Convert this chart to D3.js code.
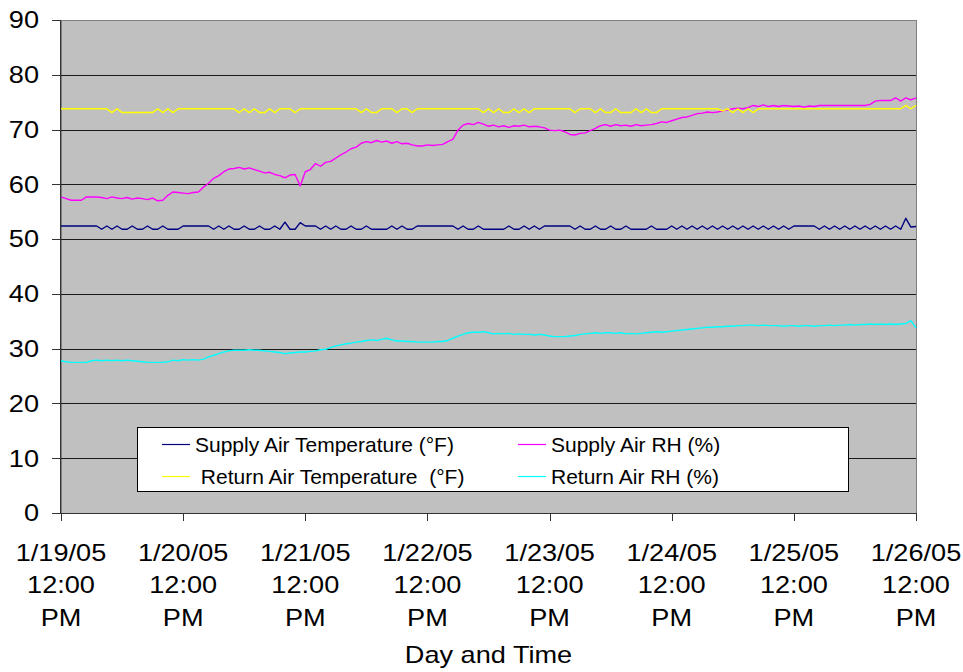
<!DOCTYPE html>
<html>
<head>
<meta charset="utf-8">
<script src="https://cdn.jsdelivr.net/npm/d3@7"></script>
<style>
  body { margin: 0; background: #fff; }
  svg { display: block; font-family: "Liberation Sans", Arial, sans-serif; }
  .grid line { stroke: #1a1a1a; stroke-width: 1; shape-rendering: crispEdges; }
  .axis path, .axis line { stroke: #333; shape-rendering: crispEdges; }
  .series { fill: none; stroke-width: 1.4; stroke-linejoin: round; }
</style>
</head>
<body>
<div id="chart"></div>
<script>
// hourly readings, 1/19/05 12:00 PM -> 1/26/05 12:00 PM (169 values each)
const supplyTemp = [
  52.4,52.4,52.4,52.4,52.4,52.4,52.4,52.4,51.8,52.4,51.8,52.4,
  51.8,51.8,52.4,51.8,51.8,52.4,51.8,51.8,52.4,51.8,51.8,51.8,
  52.4,52.4,52.4,52.4,52.4,52.4,51.8,52.4,51.8,52.4,51.8,51.8,
  52.4,51.8,51.8,52.4,51.8,51.8,52.4,51.8,53.1,51.8,51.8,53.0,
  52.4,52.4,52.4,51.8,52.4,51.8,52.4,51.8,51.8,52.4,51.8,51.8,
  52.4,51.8,51.8,51.8,51.8,52.4,51.8,52.4,51.8,51.8,52.4,52.4,
  52.4,52.4,52.4,52.4,52.4,52.4,51.8,52.4,51.8,51.8,52.4,51.8,
  51.8,51.8,51.8,51.8,52.4,51.8,51.8,52.4,51.8,52.4,51.8,52.4,
  52.4,52.4,52.4,52.4,52.4,51.8,52.4,51.8,51.8,52.4,51.8,51.8,
  52.4,51.8,51.8,52.4,51.8,51.8,51.8,51.8,52.4,51.8,51.8,51.8,
  52.4,51.8,52.4,51.8,52.4,51.8,52.4,51.8,52.4,51.8,52.4,51.8,
  52.4,51.8,52.4,51.8,52.4,51.8,52.4,51.8,52.4,51.8,52.4,51.8,
  52.4,52.4,52.4,52.4,52.4,51.8,52.4,51.8,52.4,51.8,52.4,51.8,
  52.4,51.8,52.4,51.8,52.4,51.8,52.4,51.8,52.4,51.8,53.8,52.2,
  52.3
];
const returnTemp = [
  73.8,73.8,73.8,73.8,73.8,73.8,73.8,73.8,73.8,73.8,73.1,73.8,
  73.1,73.1,73.1,73.1,73.1,73.1,73.1,73.8,73.1,73.8,73.1,73.8,
  73.8,73.8,73.8,73.8,73.8,73.8,73.8,73.8,73.8,73.8,73.8,73.1,
  73.8,73.1,73.8,73.1,73.1,73.8,73.1,73.8,73.8,73.8,73.1,73.8,
  73.8,73.8,73.8,73.8,73.8,73.8,73.8,73.8,73.8,73.8,73.8,73.1,
  73.8,73.1,73.1,73.8,73.8,73.8,73.1,73.8,73.8,73.1,73.8,73.8,
  73.8,73.8,73.8,73.8,73.8,73.8,73.8,73.8,73.8,73.8,73.8,73.1,
  73.8,73.1,73.8,73.1,73.1,73.8,73.1,73.8,73.1,73.8,73.8,73.8,
  73.8,73.8,73.8,73.8,73.8,73.1,73.8,73.8,73.8,73.1,73.8,73.1,
  73.1,73.8,73.1,73.1,73.1,73.8,73.1,73.8,73.1,73.1,73.8,73.8,
  73.8,73.8,73.8,73.8,73.8,73.8,73.8,73.8,73.8,73.8,73.4,73.8,
  73.1,73.8,73.1,73.8,73.1,73.8,73.8,73.8,73.8,73.8,73.8,73.8,
  73.8,73.8,73.8,73.8,73.8,73.8,73.8,73.8,73.8,73.8,73.8,73.8,
  73.8,73.8,73.8,73.8,73.8,73.8,73.8,73.8,73.8,73.8,74.4,73.8,
  74.4
];
const supplyRH = [
  57.7,57.4,57.1,57.1,57.1,57.7,57.7,57.7,57.6,57.4,57.7,57.5,
  57.4,57.6,57.3,57.5,57.4,57.2,57.5,57.0,57.1,58.0,58.6,58.5,
  58.4,58.3,58.5,58.6,59.5,60.2,61.1,61.6,62.3,62.8,62.9,63.1,
  62.8,63.0,62.7,62.4,62.1,62.2,61.8,61.6,61.2,61.7,61.8,59.7,
  62.3,62.7,63.8,63.3,64.0,64.2,64.8,65.4,65.9,66.5,66.8,67.5,
  67.8,67.6,68.0,67.7,67.9,67.5,67.8,67.4,67.5,67.2,67.0,67.0,
  67.2,67.1,67.2,67.3,67.8,68.2,69.9,70.8,71.1,70.9,71.3,71.0,
  70.6,70.8,70.5,70.7,70.4,70.7,70.6,70.8,70.5,70.6,70.5,70.3,
  69.9,69.8,69.9,69.6,69.1,69.0,69.3,69.4,69.8,70.2,70.7,70.9,
  70.6,70.9,70.7,70.8,70.6,70.9,70.7,70.8,70.9,71.1,71.4,71.3,
  71.6,71.9,72.2,72.3,72.6,72.9,73.0,73.2,73.1,73.2,73.4,73.6,
  73.8,73.9,73.8,74.0,74.4,74.2,74.5,74.2,74.4,74.2,74.4,74.3,
  74.2,74.3,74.1,74.3,74.2,74.4,74.4,74.4,74.4,74.4,74.4,74.4,
  74.4,74.4,74.4,74.6,75.2,75.3,75.3,75.3,75.8,75.2,75.8,75.4,
  75.8
];
const returnRH = [
  27.8,27.6,27.5,27.5,27.5,27.5,27.8,27.9,27.8,27.9,27.8,27.9,
  27.8,27.9,27.8,27.7,27.6,27.5,27.5,27.5,27.5,27.6,27.9,27.8,
  28.0,27.9,28.0,27.9,28.1,28.5,28.8,29.1,29.4,29.6,29.7,29.7,
  29.7,29.8,29.7,29.7,29.6,29.5,29.4,29.3,29.1,29.2,29.3,29.4,
  29.4,29.5,29.6,29.8,29.9,30.2,30.5,30.7,30.9,31.0,31.2,31.3,
  31.5,31.6,31.5,31.7,31.9,31.6,31.4,31.4,31.3,31.3,31.2,31.2,
  31.2,31.2,31.3,31.3,31.5,31.9,32.3,32.6,32.9,33.0,33.0,33.1,
  32.9,32.7,32.8,32.7,32.8,32.6,32.7,32.6,32.6,32.5,32.6,32.5,
  32.3,32.2,32.2,32.2,32.3,32.4,32.6,32.7,32.8,32.9,32.8,32.9,
  32.9,32.8,32.9,32.7,32.8,32.7,32.8,32.9,33.0,33.1,33.0,33.1,
  33.2,33.3,33.4,33.5,33.6,33.7,33.8,33.9,33.9,34.0,34.0,34.1,
  34.1,34.2,34.2,34.3,34.3,34.2,34.3,34.2,34.2,34.2,34.1,34.2,
  34.2,34.1,34.2,34.2,34.1,34.2,34.2,34.3,34.2,34.3,34.3,34.4,
  34.3,34.4,34.4,34.5,34.4,34.5,34.4,34.5,34.4,34.5,34.6,35.1,
  33.8
];

const seriesNames = [
  "Supply Air Temperature (°F)",
  " Return Air Temperature  (°F)",
  "Supply Air RH (%)",
  "Return Air RH (%)"
];
const seriesColors = ["#000080", "#FFFF00", "#FF00FF", "#00FFFF"];
const yTicks = [0, 10, 20, 30, 40, 50, 60, 70, 80, 90];
const xTickDays = ["1/19/05", "1/20/05", "1/21/05", "1/22/05", "1/23/05", "1/24/05", "1/25/05", "1/26/05"];
const xTickTime = ["12:00", "PM"];
const xTitle = "Day and Time";

const width = 963, height = 672;
const plot = { left: 61, top: 20, right: 916, bottom: 513 };
const start = new Date(2005, 0, 19, 12);
const end = new Date(2005, 0, 26, 12);

const x = d3.scaleTime().domain([start, end]).range([plot.left, plot.right]);
const y = d3.scaleLinear().domain([0, 90]).range([plot.bottom, plot.top]);

const svg = d3.select("#chart").append("svg")
  .attr("width", width)
  .attr("height", height);

// plot area
svg.append("rect")
  .attr("x", plot.left).attr("y", plot.top)
  .attr("width", plot.right - plot.left).attr("height", plot.bottom - plot.top)
  .attr("fill", "#C0C0C0")
  .attr("stroke", "#808080")
  .attr("shape-rendering", "crispEdges");

svg.append("g").attr("class", "grid")
  .selectAll("line")
  .data(yTicks.filter(t => t > 0 && t < 90))
  .enter().append("line")
  .attr("x1", plot.left).attr("x2", plot.right)
  .attr("y1", d => Math.round(y(d)) + 0.5).attr("y2", d => Math.round(y(d)) + 0.5);

// series lines
const allSeries = [supplyTemp, returnTemp, supplyRH, returnRH];
const line = d3.line()
  .x((d, i) => x(d3.timeHour.offset(start, i)))
  .y(d => y(d));

// draw in the original stacking order (return RH, supply RH, return temp, supply temp on top)
[3, 2, 1, 0].forEach(k => {
  svg.append("path")
    .datum(allSeries[k])
    .attr("class", "series")
    .attr("stroke", seriesColors[k])
    .attr("d", line);
});

// axes
const scaleX = 1.18;
const yAxis = svg.append("g").attr("class", "axis")
  .attr("transform", `translate(${plot.left},0)`)
  .call(d3.axisLeft(y).tickValues(yTicks).tickSize(9).tickFormat(""));
yAxis.select(".domain").attr("d", `M-0.5,${plot.top}V${plot.bottom}`);

svg.append("g")
  .selectAll("text")
  .data(yTicks)
  .enter().append("text")
  .attr("transform", d => `translate(39,${y(d) + 8.3}) scale(${scaleX},1)`)
  .attr("text-anchor", "end")
  .attr("font-size", 23)
  .attr("fill", "#000")
  .text(d => d);

const dayDates = xTickDays.map((d, i) => d3.timeDay.offset(start, i));
const xAxis = svg.append("g").attr("class", "axis")
  .attr("transform", `translate(0,${plot.bottom})`)
  .call(d3.axisBottom(x).tickValues(dayDates).tickSize(8).tickFormat(""));
xAxis.select(".domain").attr("d", `M${plot.left},0.5H${plot.right}`);

const xLabels = svg.append("g")
  .selectAll("g")
  .data(xTickDays)
  .enter().append("g")
  .attr("transform", (d, i) => `translate(${x(dayDates[i])},0)`);
xLabels.each(function(d) {
  [d].concat(xTickTime).forEach((txt, j) => {
    d3.select(this).append("text")
      .attr("transform", `translate(0,${560.7 + j * 32.5}) scale(${scaleX},1)`)
      .attr("text-anchor", "middle")
      .attr("font-size", 23)
      .text(txt);
  });
});

svg.append("text")
  .attr("transform", `translate(${(plot.left + plot.right) / 2},663.3) scale(${scaleX},1)`)
  .attr("text-anchor", "middle")
  .attr("font-size", 23)
  .text(xTitle);

// legend
const legend = svg.append("g").attr("class", "legend");
legend.append("rect")
  .attr("x", 137.5).attr("y", 427.5)
  .attr("width", 711).attr("height", 64)
  .attr("fill", "#fff")
  .attr("stroke", "#000")
  .attr("shape-rendering", "crispEdges");

const legendPos = [
  { x: 162, y: 444 },
  { x: 162, y: 476 },
  { x: 518, y: 444 },
  { x: 518, y: 476 }
];
const items = legend.selectAll(".item")
  .data(seriesNames)
  .enter().append("g")
  .attr("class", "item")
  .attr("transform", (d, i) => `translate(${legendPos[i].x},${legendPos[i].y})`);
items.append("line")
  .attr("x1", 0).attr("x2", 28)
  .attr("y1", 0.5).attr("y2", 0.5)
  .attr("stroke", (d, i) => seriesColors[i])
  .attr("stroke-width", 1.2);
items.append("text")
  .attr("x", 33)
  .attr("y", 7.5)
  .attr("font-size", 21)
  .style("white-space", "pre")
  .text(d => d);
</script>
</body>
</html>
